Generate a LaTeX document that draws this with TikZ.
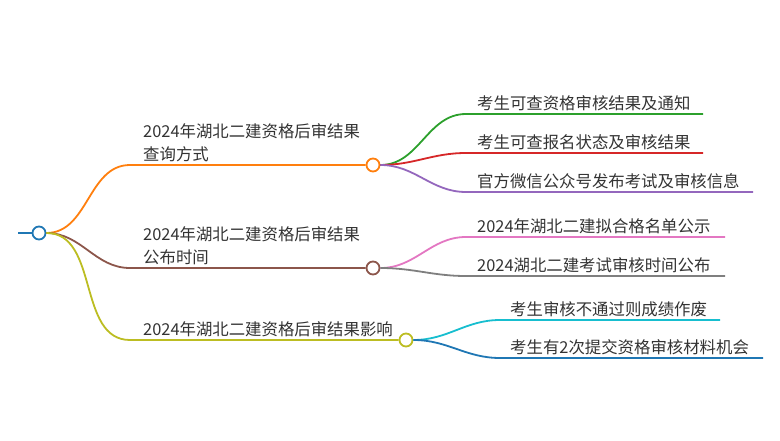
\documentclass[tikz,border=0pt]{standalone}
\usepackage{fontspec}
\setmainfont{Noto Sans CJK SC}
\definecolor{rootblue}{HTML}{1F77B4}
\definecolor{qorange}{HTML}{FF7F0E}
\definecolor{qgreen}{HTML}{2CA02C}
\definecolor{qred}{HTML}{D62728}
\definecolor{qpurple}{HTML}{9467BD}
\definecolor{tbrown}{HTML}{8C564B}
\definecolor{tpink}{HTML}{E377C2}
\definecolor{tgray}{HTML}{7F7F7F}
\definecolor{eolive}{HTML}{BCBD22}
\definecolor{ecyan}{HTML}{17BECF}
\definecolor{eblue}{HTML}{1F77B4}
\definecolor{textgray}{HTML}{333333}
\tikzset{
  hub/.style={circle,draw=#1,fill=white,line width=1.8pt,minimum size=13pt,inner sep=0pt},
  link/.style={draw=#1,line width=1.8pt},
  lbl/.style={anchor=south west,inner sep=0pt,align=left,text=textgray,
    font=\fontsize{16.4}{23}\selectfont},
}
\begin{document}
\begin{tikzpicture}[x=1pt,y=-1pt]
  \useasboundingbox (0,0) rectangle (780,441);
  \node [hub=rootblue] (root) at (39,233) {};
  \coordinate (stub) at (18,233);
  \draw [link=rootblue] (stub) -- (root.west);
  \node [hub=qorange] (query) at (373,165) {};
  \node [hub=tbrown] (time) at (373,268) {};
  \node [hub=eolive] (effect) at (406,340) {};
  \coordinate (query0) at (130,165);
  \coordinate (time0) at (130,268);
  \coordinate (effect0) at (130,340);
  \draw [link=qorange] (root.east) to [out=0,in=180] (query0) -- (query.west);
  \draw [link=tbrown] (root.east) to [out=0,in=180] (time0) -- (time.west);
  \draw [link=eolive] (root.east) to [out=0,in=180] (effect0) -- (effect.west);
  \node [lbl] (querytext) at (143,162) {2024年湖北二建资格后审结果\\查询方式};
  \node [lbl] (timetext) at (143,265) {2024年湖北二建资格后审结果\\公布时间};
  \node [lbl] (effecttext) at (143,337) {2024年湖北二建资格后审结果影响};
  \coordinate (q1a) at (466,114);
  \coordinate (q1b) at (703,114);
  \coordinate (q2a) at (466,153);
  \coordinate (q2b) at (703,153);
  \coordinate (q3a) at (466,192);
  \coordinate (q3b) at (753,192);
  \draw [link=qgreen] (query.east) to [out=0,in=180] (q1a) -- (q1b);
  \draw [link=qred] (query.east) to [out=0,in=180] (q2a) -- (q2b);
  \draw [link=qpurple] (query.east) to [out=0,in=180] (q3a) -- (q3b);
  \node [lbl] (q1text) at (477,111) {考生可查资格审核结果及通知};
  \node [lbl] (q2text) at (477,150) {考生可查报名状态及审核结果};
  \node [lbl] (q3text) at (477,189) {官方微信公众号发布考试及审核信息};
  \coordinate (t1a) at (466,237);
  \coordinate (t1b) at (725,237);
  \coordinate (t2a) at (466,276);
  \coordinate (t2b) at (725,276);
  \draw [link=tpink] (time.east) to [out=0,in=180] (t1a) -- (t1b);
  \draw [link=tgray] (time.east) to [out=0,in=180] (t2a) -- (t2b);
  \node [lbl] (t1text) at (477,234) {2024年湖北二建拟合格名单公示};
  \node [lbl] (t2text) at (477,273) {2024湖北二建考试审核时间公布};
  \coordinate (e1a) at (500,320);
  \coordinate (e1b) at (720,320);
  \coordinate (e2a) at (500,358);
  \coordinate (e2b) at (763,358);
  \draw [link=ecyan] (effect.east) to [out=0,in=180] (e1a) -- (e1b);
  \draw [link=eblue] (effect.east) to [out=0,in=180] (e2a) -- (e2b);
  \node [lbl] (e1text) at (510,317) {考生审核不通过则成绩作废};
  \node [lbl] (e2text) at (510,355) {考生有2次提交资格审核材料机会};
\end{tikzpicture}
\end{document}
